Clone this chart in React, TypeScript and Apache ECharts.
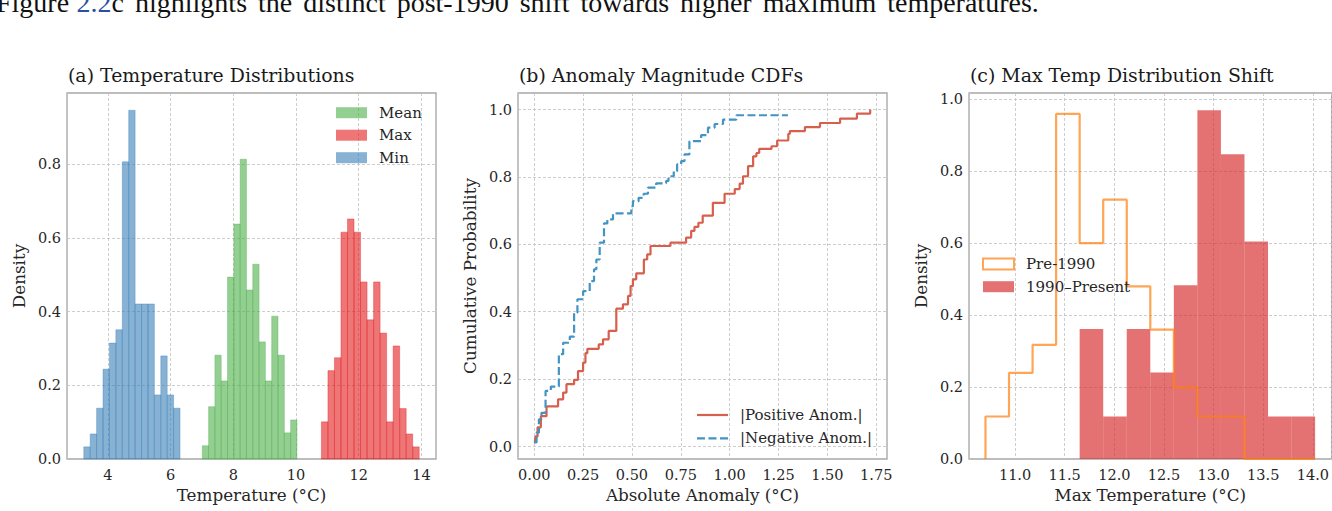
import React, { useEffect, useRef } from 'react';
import * as echarts from 'echarts';

// ---------- Panel (a): temperature distributions (density histograms) ----------
const minStart = 3.23;
const minBinWidth = 0.2047;
const minDensity = [0.033, 0.068, 0.138, 0.244, 0.315, 0.351, 0.807, 0.947, 0.421, 0.421, 0.421, 0.174, 0.28, 0.174, 0.138];
const meanStart = 7.01;
const meanBinWidth = 0.2013;
const meanDensity = [0.036, 0.142, 0.282, 0.212, 0.494, 0.638, 0.814, 0.459, 0.529, 0.318, 0.212, 0.388, 0.282, 0.071, 0.106];
const maxStart = 10.81;
const maxBinWidth = 0.208;
const maxDensity = [0.101, 0.24, 0.275, 0.616, 0.652, 0.616, 0.481, 0.378, 0.481, 0.342, 0.101, 0.307, 0.137, 0.068, 0.033];

// ---------- Panel (b): empirical CDFs of |anomaly| ----------
const positiveCdf: [number, number][] = [
  [0.003, 0.012], [0.006, 0.03], [0.017, 0.057], [0.034, 0.09], [0.063, 0.119], [0.122, 0.14],
  [0.148, 0.16], [0.165, 0.185], [0.204, 0.198], [0.224, 0.224], [0.25, 0.249], [0.262, 0.277],
  [0.272, 0.29], [0.33, 0.303], [0.352, 0.318], [0.381, 0.343], [0.42, 0.409], [0.454, 0.422],
  [0.48, 0.447], [0.493, 0.476], [0.505, 0.496], [0.522, 0.514], [0.561, 0.555], [0.578, 0.57],
  [0.595, 0.595], [0.697, 0.605], [0.777, 0.62], [0.803, 0.64], [0.82, 0.652], [0.84, 0.664],
  [0.862, 0.685], [0.914, 0.723], [0.974, 0.75], [1.026, 0.764], [1.051, 0.78], [1.068, 0.802],
  [1.094, 0.832], [1.12, 0.861], [1.137, 0.871], [1.151, 0.883], [1.214, 0.891], [1.243, 0.908],
  [1.3, 0.928], [1.308, 0.936], [1.385, 0.948], [1.462, 0.96], [1.565, 0.973], [1.651, 0.988],
  [1.719, 1.0],
];
const negativeCdf: [number, number][] = [
  [0.0, 0.012], [0.012, 0.041], [0.024, 0.081], [0.037, 0.1], [0.058, 0.165], [0.085, 0.178],
  [0.126, 0.274], [0.148, 0.308], [0.182, 0.326], [0.204, 0.397], [0.221, 0.437], [0.25, 0.461],
  [0.284, 0.491], [0.306, 0.526], [0.318, 0.555], [0.335, 0.605], [0.357, 0.662], [0.374, 0.674],
  [0.403, 0.692], [0.497, 0.713], [0.505, 0.728], [0.534, 0.738], [0.56, 0.75], [0.582, 0.768],
  [0.624, 0.781], [0.675, 0.788], [0.687, 0.802], [0.714, 0.817], [0.731, 0.837], [0.752, 0.847],
  [0.769, 0.867], [0.794, 0.906], [0.854, 0.924], [0.889, 0.946], [0.923, 0.957], [0.966, 0.97],
  [1.034, 0.983], [1.298, 0.983],
];

// ---------- Panel (c): max temperature, pre-1990 vs 1990-present ----------
const shiftStart = 10.702;
const shiftBinWidth = 0.2372;
const pre1990Density = [0.118, 0.239, 0.317, 0.958, 0.599, 0.72, 0.479, 0.359, 0.199, 0.118, 0.118, 0, 0, 0];
const post1990Density = [0, 0, 0, 0, 0.361, 0.118, 0.361, 0.24, 0.482, 0.968, 0.846, 0.604, 0.118, 0.118];

// ---------- Running text above the figure (cut off at the top, as in the source) ----------
const headerLead = 'Figure';
const headerRef = '2.2';
const headerWords = ['c', 'highlights', 'the', 'distinct', 'post-1990', 'shift', 'towards', 'higher', 'maximum', 'temperatures.'];

const FONT = '"DejaVu Serif", serif';
const GRID_TOP = 93;
const GRID_H = 366;

function binRows(start: number, width: number, dens: number[]) {
  return dens.map((d, i) => [start + i * width, start + (i + 1) * width, d]);
}

function histSeries(idx: number, rows: number[][], fill: string, stroke: string, name: string) {
  return {
    type: 'custom',
    name,
    xAxisIndex: idx,
    yAxisIndex: idx,
    data: rows,
    encode: { x: [0, 1], y: 2 },
    z: 3,
    renderItem: (params: any, api: any) => {
      const p0 = api.coord([api.value(0), api.value(2)]);
      const p1 = api.coord([api.value(1), 0]);
      return {
        type: 'rect',
        shape: { x: p0[0], y: p0[1], width: p1[0] - p0[0], height: p1[1] - p0[1] },
        style: { fill, stroke, lineWidth: 0.6 },
      };
    },
  };
}

function stepOutline(start: number, width: number, dens: number[]) {
  const pts: number[][] = [[start, 0]];
  dens.forEach((d, i) => pts.push([start + i * width, d]));
  pts.push([start + dens.length * width, dens[dens.length - 1]]);
  pts.push([start + dens.length * width, 0]);
  return pts;
}

const gridLine = { show: true, lineStyle: { color: '#c0c0c0', width: 0.8, type: [3, 2] as any } };
const tickLabel = { color: '#262626', fontFamily: FONT, fontSize: 14.5 };
const nameText = { color: '#262626', fontFamily: FONT, fontSize: 16.8 };

function xAxis(idx: number, min: number, max: number, step: number, digits: number, name: string) {
  return {
    type: 'value', gridIndex: idx, min, max, minInterval: step, maxInterval: step,
    axisLine: { show: false }, axisTick: { show: false },
    axisLabel: { ...tickLabel, margin: 8, showMinLabel: false, showMaxLabel: false, formatter: (v: number) => v.toFixed(digits) },
    splitLine: gridLine,
    name, nameLocation: 'middle', nameGap: 27, nameTextStyle: nameText,
  };
}
function yAxis(idx: number, min: number, max: number, step: number, hideMin: boolean, name: string, gap: number) {
  return {
    type: 'value', gridIndex: idx, min, max, minInterval: step, maxInterval: step,
    axisLine: { show: false }, axisTick: { show: false },
    axisLabel: { ...tickLabel, margin: 6, showMinLabel: !hideMin, showMaxLabel: false, formatter: (v: number) => v.toFixed(1) },
    splitLine: gridLine,
    name, nameLocation: 'middle', nameGap: gap, nameTextStyle: nameText,
  };
}

function legendRect(x: number, y: number, style: any) {
  return { type: 'rect', shape: { x, y: y - 5.5, width: 31, height: 11 }, style, z: 20 };
}
function legendText(x: number, y: number, text: string) {
  return { type: 'text', x, y, style: { text, fill: '#262626', font: `15px ${FONT}`, verticalAlign: 'middle' }, z: 21 };
}
function titleText(x: number, text: string) {
  return { type: 'text', x, y: 75, style: { text, fill: '#1a1a1a', font: `18.9px ${FONT}`, verticalAlign: 'middle' }, z: 21 };
}

function headerRich() {
  const parts = [`{k|${headerLead}}`, '{s0| }', `{b|${headerRef}}`];
  headerWords.forEach((w, i) => {
    if (i > 0) parts.push('{s| }');
    parts.push(`{k|${w}}`);
  });
  return parts.join('');
}

export default function App() {
  const ref = useRef<HTMLDivElement>(null);
  useEffect(() => {
    if (!ref.current) return;
    const chart = echarts.init(ref.current, null, { renderer: 'svg' });
    const blue = 'rgba(55,126,184,0.6)';
    const green = 'rgba(77,175,74,0.6)';
    const red = 'rgba(228,26,28,0.6)';
    const serif28 = '28px "Liberation Serif", serif';
    chart.setOption({
      animation: false,
      backgroundColor: '#ffffff',
      textStyle: { fontFamily: FONT },
      grid: [
        { left: 67, top: GRID_TOP, width: 369, height: GRID_H, show: true, borderColor: '#a6a6a6', borderWidth: 1.3, backgroundColor: 'transparent' },
        { left: 518, top: GRID_TOP, width: 369, height: GRID_H, show: true, borderColor: '#a6a6a6', borderWidth: 1.3, backgroundColor: 'transparent' },
        { left: 969, top: GRID_TOP, width: 368, height: GRID_H, show: true, borderColor: '#a6a6a6', borderWidth: 1.3, backgroundColor: 'transparent' },
      ],
      xAxis: [
        xAxis(0, 2.695, 14.465, 2, 0, 'Temperature (°C)'),
        xAxis(1, -0.083, 1.805, 0.25, 2, 'Absolute Anomaly (°C)'),
        xAxis(2, 10.536, 14.189, 0.5, 1, 'Max Temperature (°C)'),
      ],
      yAxis: [
        yAxis(0, 0, 0.994, 0.2, false, 'Density', 40),
        yAxis(1, -0.037, 1.049, 0.2, true, 'Cumulative Probability', 40),
        yAxis(2, 0, 1.016, 0.2, false, 'Density', 40),
      ],
      series: [
        histSeries(0, binRows(minStart, minBinWidth, minDensity), blue, 'rgba(55,126,184,0.6)', 'Min'),
        histSeries(0, binRows(meanStart, meanBinWidth, meanDensity), green, 'rgba(77,175,74,0.6)', 'Mean'),
        histSeries(0, binRows(maxStart, maxBinWidth, maxDensity), red, 'rgba(228,26,28,0.6)', 'Max'),
        {
          type: 'line', name: '|Positive Anom.|', xAxisIndex: 1, yAxisIndex: 1, data: positiveCdf,
          step: 'end', showSymbol: false, lineStyle: { color: '#d6604d', width: 2.2 }, z: 4,
        },
        {
          type: 'line', name: '|Negative Anom.|', xAxisIndex: 1, yAxisIndex: 1, data: negativeCdf,
          step: 'end', showSymbol: false, lineStyle: { color: '#4393c3', width: 2.2, type: [8, 3.5] }, z: 4,
        },
        histSeries(2, binRows(shiftStart, shiftBinWidth, post1990Density).filter((r) => r[2] > 0), 'rgba(214,39,40,0.65)', 'rgba(214,39,40,0)', '1990–Present'),
        {
          type: 'line', name: 'Pre-1990', xAxisIndex: 2, yAxisIndex: 2, data: stepOutline(shiftStart, shiftBinWidth, pre1990Density),
          step: 'end', showSymbol: false, lineStyle: { color: 'rgba(255,127,14,0.7)', width: 2.2 }, z: 5,
        },
      ],
      graphic: [
        {
          type: 'text', x: -4, y: 2,
          style: {
            text: headerRich(),
            verticalAlign: 'middle',
            rich: {
              k: { fill: '#111', font: serif28 },
              b: { fill: '#2a4fa3', font: serif28 },
              s0: { fill: '#111', font: serif28, width: 7.5 },
              s: { fill: '#111', font: serif28, width: 11 },
            },
          },
        },
        titleText(68, '(a) Temperature Distributions'),
        titleText(519, '(b) Anomaly Magnitude CDFs'),
        titleText(970, '(c) Max Temp Distribution Shift'),
        legendRect(336, 112.7, { fill: green }),
        legendText(379, 112.7, 'Mean'),
        legendRect(336, 135.2, { fill: red }),
        legendText(379, 135.2, 'Max'),
        legendRect(336, 157.7, { fill: blue }),
        legendText(379, 157.7, 'Min'),
        { type: 'line', shape: { x1: 697, y1: 415, x2: 728, y2: 415 }, style: { stroke: '#d6604d', lineWidth: 2.2 }, z: 20 },
        legendText(740, 415, '|Positive Anom.|'),
        { type: 'line', shape: { x1: 697, y1: 438.3, x2: 728, y2: 438.3 }, style: { stroke: '#4393c3', lineWidth: 2.2, lineDash: [8, 3.5] }, z: 20 },
        legendText(740, 438.3, '|Negative Anom.|'),
        legendRect(983, 264, { fill: 'transparent', stroke: 'rgba(255,127,14,0.7)', lineWidth: 2 }),
        legendText(1026, 264, 'Pre-1990'),
        legendRect(983, 286.7, { fill: 'rgba(214,39,40,0.65)' }),
        legendText(1026, 286.7, '1990–Present'),
      ],
    });
    return () => chart.dispose();
  }, []);
  return <div ref={ref} style={{ position: 'absolute', left: 0, top: 0, width: 1332, height: 511 }} />;
}
